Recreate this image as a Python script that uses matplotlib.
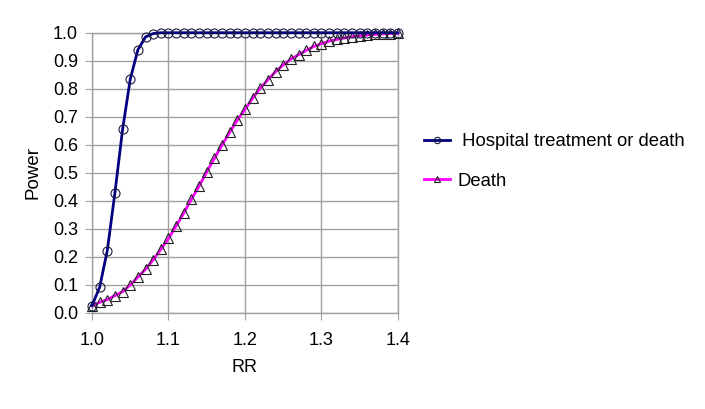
import matplotlib
matplotlib.use("Agg")
import matplotlib.pyplot as plt
import numpy as np

plt.rcParams["font.family"] = ["Liberation Sans", "DejaVu Sans"]

# RR from 1.00 to 1.40 in steps of 0.01
rr = [round(1.0 + 0.01 * i, 2) for i in range(41)]

power_hosp = [
    0.025, 0.091, 0.222, 0.429, 0.655, 0.834, 0.939, 0.985, 0.997, 1.0,
    1.0, 1.0, 1.0, 1.0, 1.0, 1.0, 1.0, 1.0, 1.0, 1.0,
    1.0, 1.0, 1.0, 1.0, 1.0, 1.0, 1.0, 1.0, 1.0, 1.0,
    1.0, 1.0, 1.0, 1.0, 1.0, 1.0, 1.0, 1.0, 1.0, 1.0,
    1.0,
]

power_death = [
    0.025, 0.037, 0.047, 0.061, 0.075, 0.099, 0.127, 0.155, 0.189, 0.226,
    0.265, 0.310, 0.356, 0.405, 0.452, 0.503, 0.551, 0.599, 0.644, 0.688,
    0.726, 0.766, 0.802, 0.832, 0.861, 0.885, 0.906, 0.921, 0.937, 0.951,
    0.961, 0.970, 0.976, 0.981, 0.986, 0.989, 0.992, 0.994, 0.996, 0.997,
    0.998,
]

labels = ["Hospital treatment or death", "Death"]

fig = plt.figure(figsize=(7.05, 4.09), dpi=100)
ax = fig.add_axes([0.1305, 0.2355, 0.434, 0.6845])

grid_col = "#a0a0a0"
ax.plot(rr, power_hosp, color="#000080", linewidth=2.0, marker="o",
        markersize=6.5, markerfacecolor="none", markeredgecolor="#1a1a40",
        markeredgewidth=0.8, clip_on=False, zorder=4, label=" " + labels[0])
ax.plot(rr, power_death, color="#ff00ff", linewidth=2.0, marker="^",
        markersize=7, markerfacecolor="none", markeredgecolor="#202020",
        markeredgewidth=0.8, clip_on=False, zorder=3, label=labels[1])

ax.set_xlim(1.0, 1.4)
ax.set_ylim(0.0, 1.0)
ax.set_xticks(np.arange(1.0, 1.41, 0.1))
ax.set_yticks(np.arange(0.0, 1.01, 0.1))
ax.set_xticklabels([f"{v:.1f}" for v in np.arange(1.0, 1.41, 0.1)])
ax.set_yticklabels([f"{v:.1f}" for v in np.arange(0.0, 1.01, 0.1)])
ax.grid(True, color=grid_col, linewidth=1.0)
ax.set_axisbelow(True)
for s in ax.spines.values():
    s.set_color(grid_col)
    s.set_linewidth(1.0)
ax.tick_params(axis="both", direction="out", length=5, color=grid_col,
               labelsize=13, pad=5)
ax.tick_params(axis="x", pad=9)

ax.set_xlabel("RR", fontsize=13, labelpad=7)
ax.set_ylabel("Power", fontsize=13.5, labelpad=8)

fig.legend(loc="center left", bbox_to_anchor=(0.578, 0.605), frameon=False,
           fontsize=13.3, handlelength=1.4, handletextpad=0.4, labelspacing=1.2,
           markerscale=0.7)

fig.savefig("out.png", dpi=100)
